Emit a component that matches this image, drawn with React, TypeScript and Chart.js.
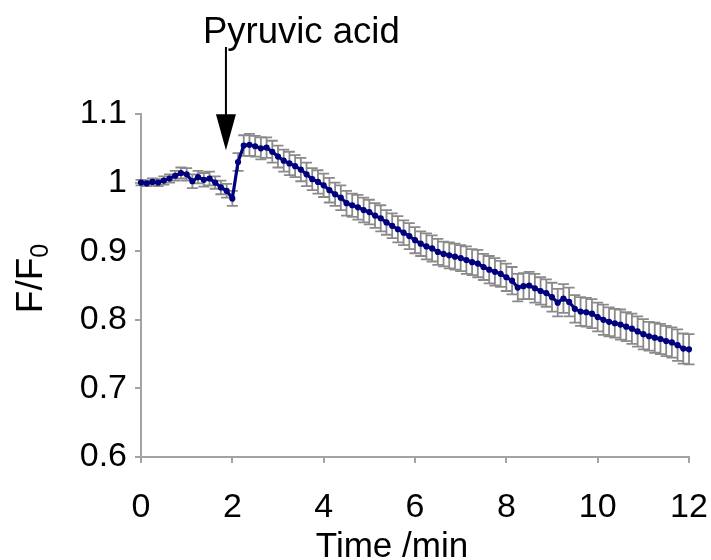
import React, { useEffect, useRef } from "react";
import { Chart, registerables } from "chart.js";

Chart.register(...registerables);

// Time (min)
const TIMES = [
  0, 0.125, 0.25, 0.375, 0.5, 0.625, 0.75, 0.875,
  1, 1.125, 1.25, 1.375, 1.5, 1.625, 1.75, 1.875,
  2, 2.125, 2.25, 2.375, 2.5, 2.625, 2.75, 2.875,
  3, 3.125, 3.25, 3.375, 3.5, 3.625, 3.75, 3.875,
  4, 4.125, 4.25, 4.375, 4.5, 4.625, 4.75, 4.875,
  5, 5.125, 5.25, 5.375, 5.5, 5.625, 5.75, 5.875,
  6, 6.125, 6.25, 6.375, 6.5, 6.625, 6.75, 6.875,
  7, 7.125, 7.25, 7.375, 7.5, 7.625, 7.75, 7.875,
  8, 8.125, 8.25, 8.375, 8.5, 8.625, 8.75, 8.875,
  9, 9.125, 9.25, 9.375, 9.5, 9.625, 9.75, 9.875,
  10, 10.125, 10.25, 10.375, 10.5, 10.625, 10.75, 10.875,
  11, 11.125, 11.25, 11.375, 11.5, 11.625, 11.75, 11.875,
  12,
];

// F/F0 mean
const VALUES = [
  1.000, 0.999, 1.001, 1.000, 1.003, 1.006, 1.010, 1.014,
  1.012, 1.002, 1.008, 1.004, 1.006, 1.000, 0.993, 0.988,
  0.977, 1.030, 1.054, 1.055, 1.053, 1.050, 1.051, 1.045,
  1.038, 1.032, 1.028, 1.024, 1.019, 1.012, 1.005, 1.001,
  0.996, 0.989, 0.983, 0.978, 0.970, 0.967, 0.964, 0.960,
  0.957, 0.952, 0.948, 0.942, 0.937, 0.932, 0.927, 0.922,
  0.916, 0.911, 0.907, 0.904, 0.899, 0.896, 0.894, 0.892,
  0.890, 0.887, 0.884, 0.882, 0.877, 0.873, 0.870, 0.867,
  0.862, 0.857, 0.847, 0.849, 0.850, 0.846, 0.842, 0.839,
  0.833, 0.825, 0.831, 0.826, 0.816, 0.812, 0.811, 0.809,
  0.804, 0.800, 0.797, 0.795, 0.793, 0.790, 0.787, 0.783,
  0.779, 0.776, 0.774, 0.772, 0.769, 0.767, 0.763, 0.758,
  0.757,
];

// error (+/-)
const ERRORS = [
  0.004, 0.004, 0.005, 0.005, 0.006, 0.006, 0.007, 0.008,
  0.009, 0.010, 0.009, 0.010, 0.010, 0.009, 0.010, 0.010,
  0.011, 0.013, 0.015, 0.016, 0.015, 0.016, 0.015, 0.016,
  0.016, 0.016, 0.017, 0.016, 0.017, 0.017, 0.016, 0.017,
  0.017, 0.018, 0.017, 0.018, 0.018, 0.017, 0.018, 0.018,
  0.018, 0.018, 0.019, 0.018, 0.018, 0.019, 0.018, 0.019,
  0.019, 0.018, 0.019, 0.019, 0.019, 0.018, 0.019, 0.019,
  0.019, 0.020, 0.019, 0.020, 0.019, 0.020, 0.020, 0.019,
  0.020, 0.020, 0.020, 0.019, 0.020, 0.021, 0.020, 0.020,
  0.021, 0.020, 0.021, 0.021, 0.020, 0.021, 0.021, 0.021,
  0.021, 0.022, 0.021, 0.021, 0.022, 0.021, 0.022, 0.022,
  0.022, 0.021, 0.022, 0.022, 0.022, 0.022, 0.023, 0.022,
  0.022,
];

const X_MIN = 0;
const X_MAX = 12;
const X_STEP = 2;
const Y_MIN = 0.6;
const Y_MAX = 1.1;
const Y_STEP = 0.1;

const ANNOTATION_TEXT = "Pyruvic acid";
const ARROW_TIME = 1.86;
const ARROW_TIP_VALUE = 1.047;

const X_TITLE = "Time /min";
const Y_TITLE_MAIN = "F/F";
const Y_TITLE_SUB = "0";

const FONT = "'Liberation Sans', Arial, sans-serif";
const AXIS_GREY = "#a3a3a3";

export default function App() {
  const ref = useRef<HTMLCanvasElement | null>(null);

  useEffect(() => {
    if (!ref.current) return;

    const errorBars = {
      id: "errorBars",
      beforeDatasetsDraw(chart: any) {
        const { ctx, scales } = chart;
        const x = scales.x;
        const y = scales.y;
        ctx.save();
        ctx.strokeStyle = "#8a8a8a";
        ctx.lineWidth = 1.8;
        TIMES.forEach((t, i) => {
          const px = x.getPixelForValue(t);
          const top = y.getPixelForValue(VALUES[i] + ERRORS[i]);
          const bot = y.getPixelForValue(VALUES[i] - ERRORS[i]);
          ctx.beginPath();
          ctx.moveTo(px, top);
          ctx.lineTo(px, bot);
          ctx.moveTo(px - 5.5, top);
          ctx.lineTo(px + 5.5, top);
          ctx.moveTo(px - 5.5, bot);
          ctx.lineTo(px + 5.5, bot);
          ctx.stroke();
        });
        ctx.restore();
      },
    };

    const decorations = {
      id: "decorations",
      afterDraw(chart: any) {
        const { ctx, scales, chartArea } = chart;
        const x = scales.x;
        const y = scales.y;
        ctx.save();
        ctx.fillStyle = "#000";
        ctx.strokeStyle = "#000";

        // Annotation arrow
        const ax = x.getPixelForValue(ARROW_TIME);
        const tipY = y.getPixelForValue(ARROW_TIP_VALUE);
        ctx.lineWidth = 2;
        ctx.beginPath();
        ctx.moveTo(ax, 47);
        ctx.lineTo(ax, tipY - 30);
        ctx.stroke();
        ctx.beginPath();
        ctx.moveTo(ax - 10, tipY - 36);
        ctx.lineTo(ax + 10, tipY - 36);
        ctx.lineTo(ax, tipY);
        ctx.closePath();
        ctx.fill();

        ctx.font = `36.5px ${FONT}`;
        ctx.textAlign = "left";
        ctx.textBaseline = "alphabetic";
        ctx.fillText(ANNOTATION_TEXT, ax - 23, 43);

        // X title
        ctx.font = `35px ${FONT}`;
        ctx.textAlign = "center";
        ctx.fillText(X_TITLE, 392, 557);

        // Y title with subscript
        const cy = (chartArea.top + chartArea.bottom) / 2 - 7;
        ctx.translate(42, cy);
        ctx.rotate(-Math.PI / 2);
        ctx.font = `37px ${FONT}`;
        const mainW = ctx.measureText(Y_TITLE_MAIN).width;
        ctx.font = `25px ${FONT}`;
        const subW = ctx.measureText(Y_TITLE_SUB).width;
        const start = -(mainW + subW) / 2;
        ctx.textAlign = "left";
        ctx.font = `37px ${FONT}`;
        ctx.fillText(Y_TITLE_MAIN, start, 0);
        ctx.font = `25px ${FONT}`;
        ctx.fillText(Y_TITLE_SUB, start + mainW, 6);
        ctx.restore();
      },
    };

    const chart = new Chart(ref.current, {
      type: "line",
      data: {
        datasets: [
          {
            data: TIMES.map((t, i) => ({ x: t, y: VALUES[i] })),
            borderColor: "#00007f",
            backgroundColor: "#00007f",
            borderWidth: 3.2,
            pointRadius: 1.5,
            pointHoverRadius: 1.5,
            tension: 0,
            clip: false as any,
          },
        ],
      },
      options: {
        animation: false,
        responsive: false,
        events: [],
        layout: { padding: { left: 0, top: 114, right: 22, bottom: 0 } },
        plugins: {
          legend: { display: false },
          tooltip: { enabled: false },
          title: { display: false },
        },
        scales: {
          x: {
            type: "linear",
            min: X_MIN,
            max: X_MAX,
            afterFit: (s: any) => {
              s.height = 103;
              s.paddingLeft = 0;
              s.paddingRight = 0;
            },
            border: { display: true, color: AXIS_GREY, width: 2 },
            grid: {
              display: true,
              drawOnChartArea: false,
              drawTicks: true,
              tickLength: 6,
              color: AXIS_GREY,
              lineWidth: 2,
            },
            ticks: {
              stepSize: X_STEP,
              color: "#000",
              font: { family: FONT, size: 34 },
              padding: 24,
              maxRotation: 0,
            },
          },
          y: {
            type: "linear",
            min: Y_MIN,
            max: Y_MAX,
            afterFit: (s: any) => {
              s.width = 141;
              s.paddingTop = 0;
              s.paddingBottom = 0;
            },
            border: { display: true, color: AXIS_GREY, width: 2 },
            grid: {
              display: true,
              drawOnChartArea: false,
              drawTicks: true,
              tickLength: 6,
              color: AXIS_GREY,
              lineWidth: 2,
            },
            ticks: {
              stepSize: Y_STEP,
              color: "#000",
              font: { family: FONT, size: 34 },
              padding: 8,
              callback: (v: any) => String(Number(Number(v).toFixed(1))),
            },
          },
        },
      },
      plugins: [errorBars, decorations],
    });

    return () => chart.destroy();
  }, []);

  return (
    <div style={{ position: "fixed", left: 0, top: 0, width: 711, height: 560, background: "#fff" }}>
      <canvas ref={ref} width={711} height={560} style={{ display: "block" }} />
    </div>
  );
}
